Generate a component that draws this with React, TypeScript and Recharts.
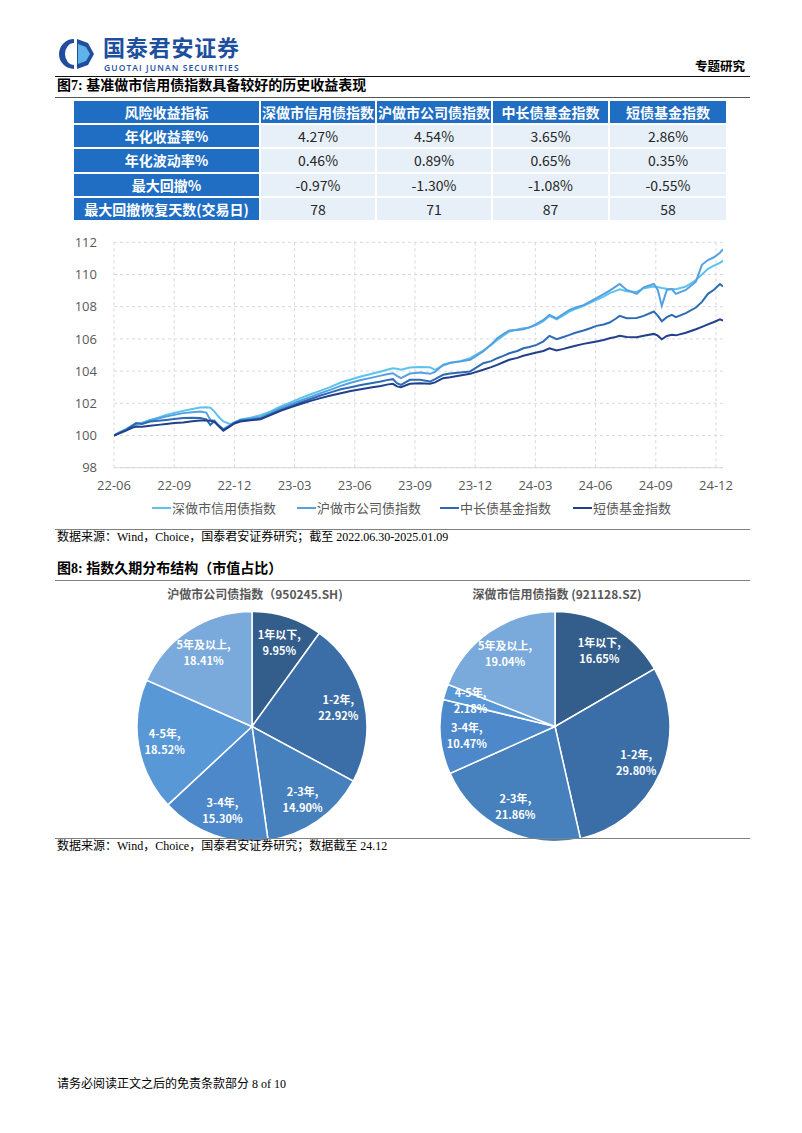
import React from 'react';
import { LineChart, Line, XAxis, YAxis, CartesianGrid, PieChart, Pie, Cell } from 'recharts';

// ---------- Line chart data (x = months since 2022-06-30) ----------
const months = [0, 0.3, 0.6, 0.9, 1.1, 1.4, 1.8, 2.2, 2.6, 3.0, 3.45, 3.9, 4.3, 4.6, 4.8, 5.0, 5.2, 5.45, 5.8, 6.0, 6.3, 6.8, 7.3, 7.8, 8.3, 8.8, 9.3, 9.8, 10.3, 10.8, 11.3, 11.8, 12.3, 12.8, 13.3, 13.6, 13.9, 14.1, 14.3, 14.75, 15.25, 15.75, 16.0, 16.4, 16.75, 17.25, 17.75, 18.4, 18.8, 19.1, 19.4, 19.7, 20.1, 20.4, 20.7, 21.06, 21.4, 21.7, 22.06, 22.4, 22.7, 23.0, 23.4, 23.7, 24.05, 24.4, 24.7, 25.0, 25.2, 25.55, 26.05, 26.4, 26.9, 27.1, 27.3, 27.55, 27.8, 28.0, 28.5, 29.0, 29.3, 29.6, 29.9, 30.2, 30.35];

const shenCredit = [100.00, 100.22, 100.40, 100.60, 100.68, 100.78, 100.97, 101.10, 101.28, 101.40, 101.53, 101.64, 101.74, 101.76, 101.72, 101.50, 101.18, 100.87, 100.70, 100.82, 101.00, 101.10, 101.26, 101.50, 101.80, 102.06, 102.32, 102.56, 102.79, 103.02, 103.29, 103.48, 103.66, 103.82, 103.97, 104.08, 104.18, 104.15, 104.08, 104.22, 104.26, 104.24, 104.08, 104.35, 104.50, 104.62, 104.80, 105.28, 105.62, 105.94, 106.20, 106.46, 106.58, 106.66, 106.70, 106.87, 107.10, 107.43, 107.22, 107.46, 107.70, 107.86, 108.05, 108.22, 108.42, 108.62, 108.84, 108.98, 109.08, 108.96, 108.92, 109.15, 109.25, 109.22, 109.16, 109.12, 109.10, 109.08, 109.25, 109.66, 110.00, 110.35, 110.55, 110.72, 110.86];

const huCorp = [100.00, 100.20, 100.38, 100.62, 100.72, 100.78, 100.93, 101.05, 101.18, 101.28, 101.39, 101.44, 101.49, 101.42, 100.97, 100.92, 100.66, 100.39, 100.66, 100.82, 100.97, 101.05, 101.14, 101.40, 101.70, 101.94, 102.17, 102.40, 102.63, 102.85, 103.08, 103.28, 103.45, 103.58, 103.72, 103.80, 103.87, 103.70, 103.56, 103.85, 103.92, 103.83, 103.95, 104.39, 104.52, 104.60, 104.70, 105.22, 105.66, 106.04, 106.30, 106.52, 106.56, 106.60, 106.72, 106.93, 107.18, 107.49, 107.28, 107.55, 107.80, 107.95, 108.10, 108.30, 108.53, 108.78, 109.00, 109.25, 109.41, 109.04, 108.80, 109.20, 109.41, 109.04, 108.05, 109.04, 109.10, 108.80, 109.04, 109.56, 110.60, 110.90, 111.07, 111.35, 111.57];

const midLongFund = [100.00, 100.18, 100.34, 100.60, 100.77, 100.72, 100.87, 100.92, 100.97, 101.02, 101.08, 101.10, 101.08, 101.00, 100.66, 100.90, 100.62, 100.35, 100.62, 100.78, 100.93, 100.98, 101.05, 101.32, 101.59, 101.82, 102.05, 102.27, 102.48, 102.68, 102.87, 103.00, 103.14, 103.25, 103.35, 103.44, 103.50, 103.25, 103.14, 103.46, 103.46, 103.35, 103.50, 103.77, 103.85, 103.92, 103.98, 104.49, 104.62, 104.80, 104.95, 105.11, 105.25, 105.42, 105.50, 105.63, 105.85, 106.19, 105.98, 106.12, 106.25, 106.38, 106.52, 106.65, 106.81, 106.90, 107.02, 107.25, 107.43, 107.28, 107.30, 107.43, 107.70, 107.45, 107.10, 107.35, 107.49, 107.35, 107.60, 107.95, 108.30, 108.80, 109.05, 109.41, 109.25];

const shortFund = [100.00, 100.15, 100.30, 100.48, 100.56, 100.55, 100.60, 100.66, 100.72, 100.77, 100.81, 100.88, 100.93, 100.93, 100.92, 100.85, 100.60, 100.29, 100.58, 100.75, 100.87, 100.94, 101.01, 101.27, 101.53, 101.75, 101.96, 102.15, 102.32, 102.48, 102.63, 102.76, 102.87, 102.98, 103.08, 103.16, 103.21, 103.05, 103.00, 103.21, 103.25, 103.21, 103.30, 103.56, 103.62, 103.72, 103.83, 104.08, 104.25, 104.39, 104.55, 104.70, 104.82, 104.95, 105.05, 105.15, 105.25, 105.42, 105.28, 105.38, 105.48, 105.58, 105.69, 105.76, 105.84, 105.93, 106.04, 106.12, 106.19, 106.12, 106.10, 106.20, 106.31, 106.20, 105.98, 106.18, 106.25, 106.22, 106.38, 106.60, 106.75, 106.90, 107.05, 107.22, 107.14];

const xTicks = [0, 3, 6, 9, 12, 15, 18, 21, 24, 27, 30];
const xTickLabels = ['22-06', '22-09', '22-12', '23-03', '23-06', '23-09', '23-12', '24-03', '24-06', '24-09', '24-12'];
const yTicks = [98, 100, 102, 104, 106, 108, 110, 112];

const seriesNames = ['深做市信用债指数', '沪做市公司债指数', '中长债基金指数', '短债基金指数'];
const seriesColors = ['#5cc3ee', '#55a0e2', '#2d6bb4', '#213f8a'];

// ---------- Table data ----------
const tableHeader = ['风险收益指标', '深做市信用债指数', '沪做市公司债指数', '中长债基金指数', '短债基金指数'];
const tableRowLabels = ['年化收益率%', '年化波动率%', '最大回撤%', '最大回撤恢复天数(交易日)'];
const tableShenCredit = ['4.27%', '0.46%', '-0.97%', '78'];
const tableHuCorp = ['4.54%', '0.89%', '-1.30%', '71'];
const tableMidLong = ['3.65%', '0.65%', '-1.08%', '87'];
const tableShort = ['2.86%', '0.35%', '-0.55%', '58'];

// ---------- Pie data ----------
const durationBuckets = ['1年以下', '1-2年', '2-3年', '3-4年', '4-5年', '5年及以上'];
const huShares = [9.95, 22.92, 14.90, 15.30, 18.52, 18.41];
const shenShares = [16.65, 29.80, 21.86, 10.47, 2.18, 19.04];
const pieColors = ['#335e8c', '#3b6ea7', '#4680bd', '#4d89ca', '#5898d7', '#7aaadc'];

const lineData = months.map((m, i) => ({
  m,
  a: shenCredit[i],
  b: huCorp[i],
  c: midLongFund[i],
  d: shortFund[i],
}));

const SANS = '"Noto Sans CJK SC", "Open Sans", sans-serif';
const NUM = '"Open Sans", "Noto Sans CJK SC", sans-serif';
const SERIF = '"Liberation Serif", "Noto Sans CJK SC", serif';

const RAD = Math.PI / 180;

function T(props: { x: number; y: number; size: number; children: React.ReactNode; style?: React.CSSProperties; family?: string; weight?: number; color?: string }) {
  const { x, y, size, children, style, family, weight, color } = props;
  return (
    <div
      style={{
        position: 'absolute',
        left: x,
        top: y - size * 0.55,
        fontSize: size,
        lineHeight: `${size}px`,
        fontFamily: family || SERIF,
        fontWeight: weight || 400,
        color: color || '#000',
        whiteSpace: 'nowrap',
        ...style,
      }}
    >
      {children}
    </div>
  );
}

function HLine({ y, x1, x2, h, color }: { y: number; x1: number; x2: number; h: number; color: string }) {
  return <div style={{ position: 'absolute', left: x1, top: y - h / 2, width: x2 - x1, height: h, background: color }} />;
}

function Logo() {
  return (
    <svg width={40} height={32} style={{ position: 'absolute', left: 57, top: 38 }}>
      <path d="M17 1 A15 15 0 0 0 17 31 L17 27 A9 11 0 0 1 17 5 Z" fill="#1f4e9e" />
      <polygon points="20,1 31,5 37,16 31,27 20,31" fill="#1f4e9e" />
      <polygon points="21,6 29,9 33,16 29,23 21,26" fill="#5fb3e6" />
    </svg>
  );
}

function Table() {
  const colX = [73, 260, 376, 492, 609, 727];
  const rowY = [100, 124.2, 148.4, 172.6, 196.8, 221];
  const blue = '#1f6ec4';
  const light = '#e7f0f9';
  const cols = [tableShenCredit, tableHuCorp, tableMidLong, tableShort];
  const cells: React.ReactNode[] = [];
  for (let r = 0; r < 5; r++) {
    for (let c = 0; c < 5; c++) {
      let text: string;
      let isBlue = false;
      if (r === 0) {
        text = tableHeader[c];
        isBlue = true;
      } else if (c === 0) {
        text = tableRowLabels[r - 1];
        isBlue = true;
      } else {
        text = cols[c - 1][r - 1];
      }
      cells.push(
        <div
          key={`${r}-${c}`}
          style={{
            position: 'absolute',
            left: colX[c] + 1,
            top: rowY[r] + 1,
            width: colX[c + 1] - colX[c] - 2,
            height: rowY[r + 1] - rowY[r] - 2,
            background: isBlue ? blue : light,
            color: isBlue ? '#fff' : '#262626',
            fontWeight: isBlue ? 700 : 400,
            fontFamily: SANS,
            fontSize: 14,
            display: 'flex',
            alignItems: 'center',
            justifyContent: 'center',
            whiteSpace: 'nowrap',
          }}
        >
          {text}
        </div>
      );
    }
  }
  return <>{cells}</>;
}

function makePieLabel(names: string[]) {
  return (props: any) => {
    const { cx, cy, midAngle, outerRadius, index, payload } = props;
    const r = outerRadius * 0.77;
    const x = cx + r * Math.cos(-midAngle * RAD);
    const y = cy + r * Math.sin(-midAngle * RAD);
    return (
      <text fill="#fff" textAnchor="middle" fontSize={11} fontWeight={700} fontFamily={SANS}>
        <tspan x={x} y={y - 3}>{names[index]},</tspan>
        <tspan x={x} y={y + 13}>{payload.value.toFixed(2)}%</tspan>
      </text>
    );
  };
}

function DurationPie({ left, shares, title, titleX }: { left: number; shares: number[]; title: string; titleX: number }) {
  const data = durationBuckets.map((n, i) => ({ name: n, value: shares[i] }));
  return (
    <>
      <T x={titleX} y={595} size={12} family={SANS} weight={700} color="#595959" style={{ transform: 'translateX(-50%)' }}>
        {title}
      </T>
      <div style={{ position: 'absolute', left, top: 590 }}>
        <PieChart width={300} height={260}>
          <Pie
            data={data}
            dataKey="value"
            nameKey="name"
            cx={150}
            cy={131.5}
            outerRadius={115}
            startAngle={90}
            endAngle={-270}
            stroke="#ffffff"
            strokeWidth={1.5}
            labelLine={false}
            label={makePieLabel(durationBuckets)}
            isAnimationActive={false}
          >
            {data.map((d, i) => (
              <Cell key={d.name} fill={pieColors[i]} />
            ))}
          </Pie>
        </PieChart>
      </div>
    </>
  );
}

function Legend() {
  const starts = [152, 297, 440, 573];
  return (
    <>
      {seriesNames.map((n, i) => (
        <div key={n} style={{ position: 'absolute', left: starts[i], top: 499, height: 18, display: 'flex', alignItems: 'center' }}>
          <div style={{ width: 19, height: 2.5, background: seriesColors[i], marginRight: 1 }} />
          <span style={{ fontFamily: SANS, fontSize: 13, color: '#595959', lineHeight: '18px' }}>{n}</span>
        </div>
      ))}
    </>
  );
}

export default function App() {
  return (
    <div style={{ position: 'absolute', left: 0, top: 0, width: 802, height: 1133, background: '#fff', overflow: 'hidden' }}>
      {/* header */}
      <Logo />
      <T x={103} y={47.5} size={22} family={SANS} weight={700} color="#1d4f9e" style={{ letterSpacing: 0.8 }}>国泰君安证券</T>
      <T x={104} y={69} size={8.5} family={NUM} weight={600} color="#1d4f9e" style={{ letterSpacing: 1.1 }}>GUOTAI JUNAN SECURITIES</T>
      <T x={695} y={68} size={12.5} family={SERIF} weight={700} color="#000">专题研究</T>
      <HLine y={76.5} x1={55} x2={750} h={1.5} color="#111" />

      {/* figure 7 */}
      <T x={57} y={87} size={14} family={SERIF} weight={700}>图7: 基准做市信用债指数具备较好的历史收益表现</T>
      <HLine y={97} x1={55} x2={750} h={1} color="#555" />
      <Table />

      <div style={{ position: 'absolute', left: 60, top: 230 }}>
        <LineChart width={680} height={280} data={lineData} margin={{ top: 12.3, right: 17, left: 0, bottom: 12.3 }}>
          <CartesianGrid stroke="#d9d9d9" strokeDasharray="3 3" horizontalValues={yTicks} verticalValues={xTicks} />
          <XAxis
            dataKey="m"
            type="number"
            domain={[0, 30.35]}
            ticks={xTicks}
            interval={0}
            tickFormatter={(v: number) => xTickLabels[xTicks.indexOf(v)] ?? ''}
            tick={{ fill: '#595959', fontSize: 13, fontFamily: NUM }}
            tickLine={false}
            tickSize={6}
            tickMargin={7}
            axisLine={{ stroke: '#d9d9d9' }}
            height={30}
            allowDataOverflow
          />
          <YAxis
            type="number"
            domain={[98, 112]}
            ticks={yTicks}
            interval={0}
            tick={{ fill: '#595959', fontSize: 13, fontFamily: NUM }}
            tickLine={false}
            axisLine={false}
            tickSize={6}
            tickMargin={11}
            width={54}
            allowDataOverflow
          />
          <Line type="linear" dataKey="a" stroke={seriesColors[0]} strokeWidth={2} dot={false} isAnimationActive={false} />
          <Line type="linear" dataKey="b" stroke={seriesColors[1]} strokeWidth={2} dot={false} isAnimationActive={false} />
          <Line type="linear" dataKey="c" stroke={seriesColors[2]} strokeWidth={2} dot={false} isAnimationActive={false} />
          <Line type="linear" dataKey="d" stroke={seriesColors[3]} strokeWidth={2} dot={false} isAnimationActive={false} />
        </LineChart>
      </div>
      <Legend />

      <HLine y={529} x1={55} x2={750} h={1} color="#808080" />
      <T x={57} y={538} size={12} family={SERIF}>数据来源：Wind，Choice，国泰君安证券研究；截至 2022.06.30-2025.01.09</T>

      {/* figure 8 */}
      <T x={57} y={570} size={14} family={SERIF} weight={700}>图8: 指数久期分布结构（市值占比）</T>
      <HLine y={580} x1={55} x2={750} h={1} color="#808080" />

      <DurationPie left={97} shares={huShares} title="沪做市公司债指数（950245.SH)" titleX={255} />
      <DurationPie left={400} shares={shenShares} title="深做市信用债指数 (921128.SZ)" titleX={557} />

      <HLine y={838} x1={55} x2={750} h={1} color="#808080" />
      <T x={57} y={847} size={12} family={SERIF}>数据来源：Wind，Choice，国泰君安证券研究；数据截至 24.12</T>

      <T x={57} y={1085} size={12} family={SERIF}>请务必阅读正文之后的免责条款部分 8 of 10</T>
    </div>
  );
}
